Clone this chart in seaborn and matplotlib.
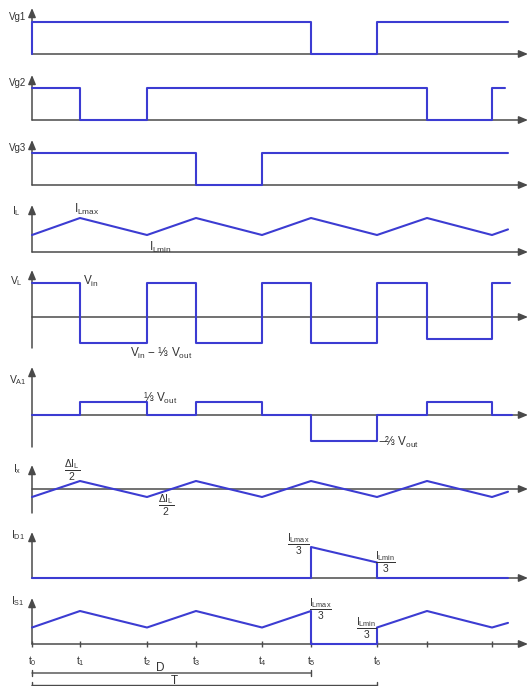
import matplotlib.pyplot as plt
import seaborn as sns

# switching instants t0..t8 (same arbitrary time unit for every trace)
t_marks = [0, 48, 115, 164, 230, 279, 345, 395, 460]
t_end = 476
t_names = ['$t_0$', '$t_1$', '$t_2$', '$t_3$', '$t_4$', '$t_5$', '$t_6$', '', '']

# gate signals (1 = on)
vg1_t = [0, 0, 279, 345, 476]
vg1 = [0, 1, 0, 1, 1]
vg2_t = [0, 48, 115, 395, 460, 473]
vg2 = [1, 0, 1, 0, 1, 1]
vg3_t = [0, 164, 230, 476]
vg3 = [1, 0, 1, 1]

# inductor current, in units of ILmax
il_t = t_marks + [t_end]
il = [0.5, 1, 0.5, 1, 0.5, 1, 0.5, 1, 0.5, 0.665]
# inductor voltage, in units of Vin
vl_t = t_marks + [478]
vl = [1, -0.76, 1, -0.76, 1, -0.76, 1, -0.65, 1, 1]
# VA1, in units of Vout
va1_t = t_marks + [480]
va1 = [0, 1/3, 0, 1/3, 0, -2/3, 0, 1/3, 0, 0]
# ripple current, in units of dIL
ix_t = t_marks + [t_end]
ix = [-0.5, 0.5, -0.5, 0.5, -0.5, 0.5, -0.5, 0.5, -0.5, -0.17]
# diode / switch currents, in units of ILmax/3
id1_t = [0, 279, 279, 345, 345, 476]
id1 = [0, 0, 1, 0.5, 0, 0]
is1_t = [0, 48, 115, 164, 230, 279, 279, 345, 345, 395, 460, 476]
is1 = [0.5, 1, 0.5, 1, 0.5, 1, 0, 0, 0.5, 1, 0.5, 0.64]

sns.set_style('white')
plt.rcParams['font.family'] = ['Liberation Sans', 'DejaVu Sans']
plt.rcParams['mathtext.fontset'] = 'custom'
plt.rcParams['mathtext.rm'] = 'Liberation Sans'
plt.rcParams['mathtext.it'] = 'Liberation Sans'
plt.rcParams['mathtext.bf'] = 'Liberation Sans:bold'

W, H = 529, 686
BLUE = '#3c3cd2'
AX = '#4a4a4a'
TXT = '#333333'
FS = 7

fig = plt.figure(figsize=(W / 100, H / 100), dpi=100)

x0, x1 = 32, 528  # pixel span of the time axis


def panel(ytop, yzero, ybot, scale):
    ax = fig.add_axes([x0 / W, (H - ybot) / H, (x1 - x0) / W, (ybot - ytop) / H])
    ax.set_xlim(0, x1 - x0)
    ax.set_ylim((yzero - ybot) / scale, (yzero - ytop) / scale)
    sns.despine(ax=ax, left=True, bottom=True)
    ax.set_xticks([])
    ax.set_yticks([])
    arrow = dict(arrowstyle='-|>,head_length=0.6,head_width=0.25', color=AX,
                 lw=1.1, shrinkA=0, shrinkB=0, mutation_scale=9)
    ax.annotate('', xy=(1, 0), xytext=(0, 0), xycoords=ax.get_yaxis_transform(),
                arrowprops=arrow, zorder=1)
    ax.annotate('', xy=(0, 1), xytext=(0, 0), xycoords='axes fraction',
                arrowprops=arrow, zorder=1)
    return ax


def trace(ax, t, v, steps=False):
    kw = dict(drawstyle='steps-post') if steps else {}
    sns.lineplot(x=t, y=v, ax=ax, color=BLUE, lw=1.5, sort=False,
                 estimator=None, clip_on=False, zorder=3, **kw)
    ax.set(xlabel='', ylabel='')


def label(x, y, s, ha='left', size=FS):
    fig.text(x / W, 1 - y / H, s, ha=ha, va='center', fontsize=size, color=TXT)


ax = panel(8, 54, 54, 32)
trace(ax, vg1_t, vg1, steps=True)
ax = panel(75, 120, 120, 32)
trace(ax, vg2_t, vg2, steps=True)
ax = panel(140, 185, 185, 32)
trace(ax, vg3_t, vg3, steps=True)
ax = panel(205, 252, 252, 34)
trace(ax, il_t, il)
ax = panel(270, 317, 348, 34)
trace(ax, vl_t, vl, steps=True)
ax = panel(367, 415, 447, 39)
trace(ax, va1_t, va1, steps=True)
ax = panel(465, 489, 513, 16)
trace(ax, ix_t, ix)
ax = panel(532, 578, 578, 31)
trace(ax, id1_t, id1)
ax = panel(598, 644, 644, 33)
trace(ax, is1_t, is1)
ax.set_xticks(t_marks)
ax.set_xticklabels(t_names)
ax.tick_params(axis='x', direction='inout', length=5, width=1, color=AX,
               labelsize=7.5, labelcolor=TXT, pad=5, bottom=True)

# D and T dimension lines
axd = fig.add_axes([x0 / W, 0, (x1 - x0) / W, 26 / H])
axd.set_xlim(0, x1 - x0)
axd.set_ylim(0, 26)
axd.axis('off')
dim = dict(arrowstyle='|-|,widthA=0.25,widthB=0.25', color=AX, lw=1,
           shrinkA=0, shrinkB=0, mutation_scale=10)
axd.annotate('', xy=(t_marks[5], 13), xytext=(0, 13), arrowprops=dim,
             annotation_clip=False)
axd.annotate('', xy=(t_marks[6], 0.5), xytext=(0, 0.5), arrowprops=dim,
             annotation_clip=False)
label(160, 668, 'D', ha='center', size=8.5)
label(174, 681, 'T', ha='center', size=8.5)

# axis names
SUB = 7.5
label(9, 17, 'Vg1')
label(9, 83, 'Vg2')
label(9, 148, 'Vg3')
label(12, 211, '$I_L$', size=SUB)
label(10, 281, '$V_L$', size=SUB)
label(9, 380, '$V_{A1}$', size=SUB)
label(13, 469, '$I_x$', size=SUB)
label(11, 535, '$I_{D1}$', size=SUB)
label(11, 601, '$I_{S1}$', size=SUB)

# waveform annotations
AN = 8.5
FR = 7.5
label(74, 209, '$I_{Lmax}$', size=AN)
label(149, 247, '$I_{Lmin}$', size=AN)
label(83, 281, '$V_{in}$', size=AN)
label(130, 353, '$V_{in}$ − ⅓ $V_{out}$', size=AN)
label(143, 398, '⅓ $V_{out}$', size=AN)
label(378, 442, '−⅔ $V_{out}$', size=AN)
label(72, 470, r'$\dfrac{\Delta I_L}{2}$', ha='center', size=FR)
label(166, 505, r'$\dfrac{\Delta I_L}{2}$', ha='center', size=FR)
label(298, 544, r'$\dfrac{I_{Lmax}}{3}$', ha='center', size=FR)
label(385, 562, r'$\dfrac{I_{Lmin}}{3}$', ha='center', size=FR)
label(320, 609, r'$\dfrac{I_{Lmax}}{3}$', ha='center', size=FR)
label(366, 628, r'$\dfrac{I_{Lmin}}{3}$', ha='center', size=FR)

fig.savefig('out.png', dpi=100)
